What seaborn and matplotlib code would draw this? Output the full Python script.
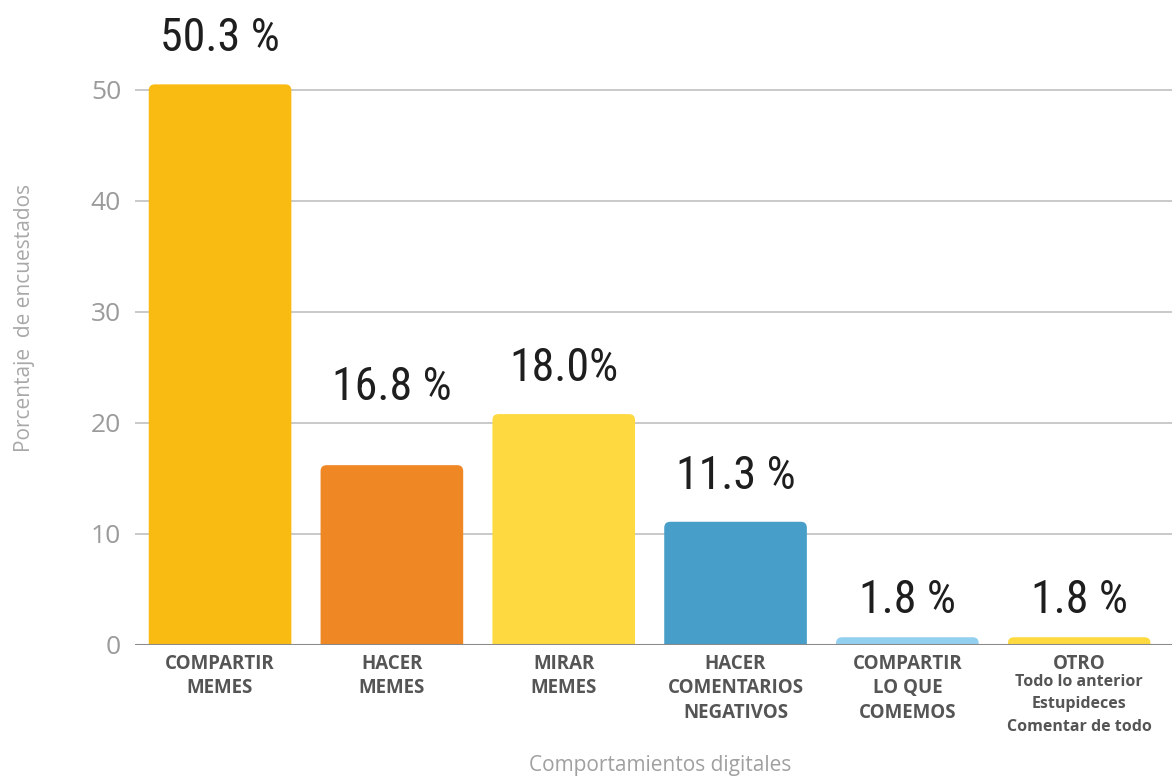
import numpy as np
import pandas as pd
import matplotlib
matplotlib.use('Agg')
import matplotlib.pyplot as plt
import seaborn as sns
from matplotlib import font_manager
from matplotlib.patches import FancyBboxPatch

categories = ['COMPARTIR\nMEMES', 'HACER\nMEMES', 'MIRAR\nMEMES',
              'HACER\nCOMENTARIOS\nNEGATIVOS', 'COMPARTIR\nLO QUE\nCOMEMOS', 'OTRO']
bar_height = [50.5, 16.2, 20.8, 11.1, 0.7, 0.7]
pct_labels = ['50.3 %', '16.8 %', '18.0%', '11.3 %', '1.8 %', '1.8 %']
otro_sub = 'Todo lo anterior\nEstupideces\nComentar de todo'
colors = ['#F9BA12', '#EF8724', '#FEDA40', '#479EC9', '#93CFEE', '#FEDA40']
label_pad = [24, 56, 24, 24, 15, 15]  # px between bar top and label

df = pd.DataFrame({'cat': categories, 'val': bar_height})

installed = {f.name for f in font_manager.fontManager.ttflist}
narrow = 'DejaVu Sans'
for name in ['Roboto Condensed', 'Liberation Sans Narrow', 'Open Sans Condensed', 'DejaVu Sans Condensed']:
    if name in installed:
        narrow = name
        break

sns.set_style('white')
plt.rcParams['font.family'] = ['Open Sans', 'DejaVu Sans']

fig = plt.figure(figsize=(11.72, 7.78), dpi=100)
ax = fig.add_axes([135 / 1172, 133 / 778, 1 - 135 / 1172, 645 / 778])

sns.barplot(data=df, x='cat', y='val', hue='cat', palette=colors, legend=False,
            width=0.83, saturation=1, ax=ax, zorder=3)

ax.set_xlim(-0.495, 5.54)
ax.set_ylim(0, 58.1)
ax.set_yticks([0, 10, 20, 30, 40, 50])
ax.yaxis.grid(True, color='#c9c9c9', linewidth=1.4, zorder=0)
ax.axhline(0, color='#8a8a8a', linewidth=2.2, zorder=4)
for s in ax.spines.values():
    s.set_visible(False)
ax.tick_params(axis='y', length=0, pad=10, labelsize=19, labelcolor='#9b9b9b')
ax.tick_params(axis='x', length=0)
ax.set_xticklabels([])
ax.set_xlabel('')
ax.set_ylabel('')

# rounded top corners: swap each rectangle for a rounded box
px_x = (ax.get_xlim()[1] - ax.get_xlim()[0]) / (1172 - 135)
px_y = (ax.get_ylim()[1] - ax.get_ylim()[0]) / 645
bars = list(ax.patches)
for p in bars:
    x, w, h = p.get_x(), p.get_width(), p.get_height()
    fb = FancyBboxPatch((x, -1), w, h + 1,
                        boxstyle=f'round,pad=0,rounding_size={6 * px_x}',
                        mutation_aspect=px_y / px_x,
                        facecolor=p.get_facecolor(), edgecolor='none', zorder=3)
    ax.add_patch(fb)
    p.set_visible(False)

for i, (p, lab) in enumerate(zip(bars, pct_labels)):
    ax.annotate(lab, (p.get_x() + p.get_width() / 2, p.get_height()),
                xytext=(0, label_pad[i] * 0.72), textcoords='offset points',
                ha='center', va='bottom', fontsize=33, color='#1e1e1e',
                family=[narrow, 'DejaVu Sans'], zorder=5)

# category labels under the axis
for i, c in enumerate(categories):
    ax.text(i, -0.8, c, ha='center', va='top', fontsize=13.5, fontweight='bold',
            color='#555555', linespacing=1.3, clip_on=False)
ax.text(5, -2.6, otro_sub, ha='center', va='top', fontsize=11.5, fontweight='bold',
        color='#555555', linespacing=1.55, clip_on=False)

fig.text(660 / 1172, 1 - 766 / 778, 'Comportamientos digitales', ha='center', va='center',
         fontsize=15, color='#a0a0a0')
fig.text(25 / 1172, 1 - 318 / 778, 'Porcentaje  de encuestados', ha='center', va='center',
         rotation=90, fontsize=15, color='#a8a8a8')

fig.savefig('out.png', dpi=100)
